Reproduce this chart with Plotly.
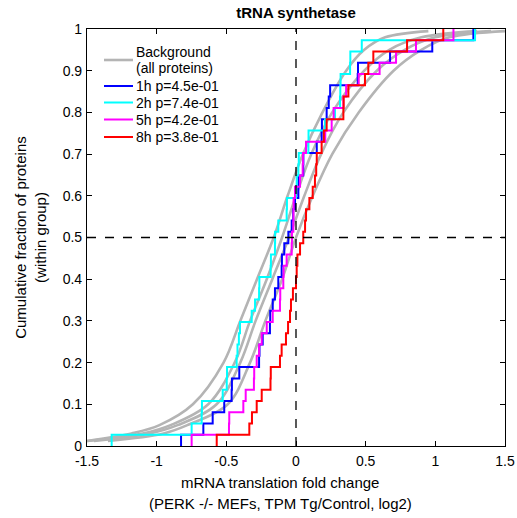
import plotly.graph_objects as go

# ---- data ----
title_text = "tRNA synthetase"

# sorted fold-change values of the tRNA synthetase genes per time point (ECDF steps)
x_1h = [-0.825, -0.665, -0.598, -0.515, -0.462, -0.46, -0.407, -0.265, -0.262, -0.239,
        -0.187, -0.185, -0.167, -0.151, -0.127, -0.103, -0.101, -0.084, -0.055, -0.031,
        -0.02, -0.007, 0.017, 0.018, 0.052, 0.053, 0.149, 0.184, 0.186, 0.22,
        0.235, 0.245, 0.443, 0.445, 0.675, 0.978, 1.273]
x_2h = [-1.323, -0.749, -0.677, -0.675, -0.526, -0.497, -0.495, -0.426, -0.42, -0.41,
        -0.402, -0.318, -0.294, -0.265, -0.263, -0.182, -0.18, -0.151, -0.15, -0.127,
        -0.067, -0.065, 0.0, 0.005, 0.017, 0.02, 0.089, 0.09, 0.208, 0.28,
        0.316, 0.318, 0.32, 0.388, 0.39, 0.472, 1.285]
x_5h = [-0.749, -0.481, -0.479, -0.378, -0.361, -0.302, -0.3, -0.282, -0.265, -0.246,
        -0.21, -0.167, -0.115, -0.113, -0.091, -0.089, -0.067, -0.031, -0.029, -0.019,
        -0.018, -0.017, -0.007, 0.029, 0.048, 0.05, 0.072, 0.21, 0.256, 0.27,
        0.34, 0.36, 0.45, 0.6, 0.718, 0.861, 1.13]
x_8h = [-0.569, -0.335, -0.316, -0.282, -0.246, -0.183, -0.181, -0.115, -0.103, -0.072,
        -0.057, -0.043, -0.036, -0.022, 0.0, 0.005, 0.01, 0.029, 0.052, 0.065,
        0.072, 0.096, 0.12, 0.136, 0.145, 0.149, 0.184, 0.2, 0.22, 0.34,
        0.342, 0.376, 0.495, 0.519, 0.555, 0.797, 1.057]

series_names = ["1h p=4.5e-01", "2h p=7.4e-01", "5h p=4.2e-01", "8h p=3.8e-01"]
series_colors = ["#0000ff", "#00ffff", "#ff00ff", "#ff0000"]

# background (all proteins) cumulative curves, read at fixed fractions
bg_levels = [0.012, 0.03, 0.05, 0.1, 0.2, 0.3, 0.4, 0.5, 0.6, 0.7, 0.8, 0.9, 0.95, 0.98, 0.995]
bg_2h = [-1.5, -1.18, -0.98, -0.74, -0.52, -0.40, -0.28, -0.16, -0.06, 0.05, 0.19, 0.36, 0.49, 0.64, 0.95]
bg_1h = [-1.5, -1.1, -0.9, -0.63, -0.44, -0.33, -0.21, -0.10, 0.0, 0.11, 0.26, 0.49, 0.67, 0.9, 1.3]
bg_5h = [-1.45, -1.05, -0.85, -0.57, -0.40, -0.29, -0.17, -0.05, 0.06, 0.18, 0.34, 0.58, 0.78, 1.0, 1.4]
bg_8h = [-1.35, -0.95, -0.78, -0.49, -0.33, -0.22, -0.10, 0.0, 0.12, 0.26, 0.45, 0.70, 0.9, 1.1, 1.5]

x_tickvals = [-1.5, -1, -0.5, 0, 0.5, 1, 1.5]
x_ticktext = ["-1.5", "-1", "-0.5", "0", "0.5", "1", "1.5"]
y_tickvals = [0, 0.1, 0.2, 0.3, 0.4, 0.5, 0.6, 0.7, 0.8, 0.9, 1]
y_ticktext = ["0", "0.1", "0.2", "0.3", "0.4", "0.5", "0.6", "0.7", "0.8", "0.9", "1"]

x_title_lines = ["mRNA translation fold change", "(PERK -/- MEFs, TPM Tg/Control, log2)"]
y_title = "Cumulative fraction of proteins<br>(within group)"
bg_name_lines = ["Background", "(all proteins)"]

# ---- layout constants (pixels) ----
W, H = 517, 518
L, R, T, B = 87, 12, 29, 72
PW, PH = W - L - R, H - T - B


def px_x(p):
    return (p - L) / PW


def px_y(p):
    return (H - B - p) / PH


# ---- figure ----
fig = go.Figure()
GRAY = "#b4b4b4"
for bg in [bg_1h, bg_2h, bg_5h, bg_8h]:
    fig.add_trace(go.Scatter(
        x=bg, y=bg_levels, mode="lines", line=dict(color=GRAY, width=2.6, shape="spline", smoothing=1.0),
        showlegend=False, hoverinfo="skip"))

for xs, nm, col in zip([x_1h, x_2h, x_5h, x_8h], series_names, series_colors):
    n = len(xs)
    xx = [xs[0]] + list(xs)
    yy = [0.0] + [(k + 1) / n for k in range(n)]
    fig.add_trace(go.Scatter(x=xx, y=yy, mode="lines", line=dict(color=col, width=2, shape="hv"),
                             name=nm, showlegend=False))

dash = dict(color="black", width=1.3, dash="dash")
fig.add_shape(type="line", xref="x", yref="y", x0=0, x1=0, y0=0, y1=1, line=dash, layer="above")
fig.add_shape(type="line", xref="x", yref="y", x0=-1.5, x1=1.5, y0=0.5, y1=0.5, line=dash, layer="above")

# ---- manual legend (inside the axes, upper left) ----
LEG_FONT = dict(size=14, color="black")
leg_x0, leg_x1, leg_tx = px_x(104), px_x(133), px_x(134)
# background entry (two text lines)
fig.add_shape(type="line", xref="paper", yref="paper", x0=leg_x0, x1=leg_x1,
              y0=px_y(60), y1=px_y(60), line=dict(color=GRAY, width=2.6))
for line_txt, py in zip(bg_name_lines, [52, 68]):
    fig.add_annotation(xref="paper", yref="paper", x=leg_tx, y=px_y(py), text=line_txt,
                       showarrow=False, xanchor="left", yanchor="middle", font=LEG_FONT)
for nm, col, py in zip(series_names, series_colors, [86, 102.5, 119.5, 137]):
    fig.add_shape(type="line", xref="paper", yref="paper", x0=leg_x0, x1=leg_x1,
                  y0=px_y(py), y1=px_y(py), line=dict(color=col, width=2))
    fig.add_annotation(xref="paper", yref="paper", x=leg_tx, y=px_y(py), text=nm,
                       showarrow=False, xanchor="left", yanchor="middle", font=LEG_FONT)

# x-axis title (two lines, centred slightly left of the axis centre as in the reference)
for line_txt, py in zip(x_title_lines, [483, 503]):
    fig.add_annotation(xref="paper", yref="paper", x=px_x(280), y=px_y(py), text=line_txt,
                       showarrow=False, xanchor="center", yanchor="middle",
                       font=dict(size=15, color="black"))

axis_common = dict(showgrid=False, zeroline=False, showline=True, linecolor="black", linewidth=1.2,
                   mirror="ticks", ticks="inside", ticklen=5, tickwidth=1, tickcolor="black",
                   tickfont=dict(size=14, color="black"), automargin=False)
fig.update_layout(
    width=W, height=H,
    margin=dict(l=L, r=R, t=T, b=B, autoexpand=False),
    paper_bgcolor="white", plot_bgcolor="white",
    font=dict(family="Liberation Sans, Arial, sans-serif", color="black", size=14),
    title=dict(text="<b>" + title_text + "</b>", xref="paper", x=0.5, xanchor="center",
               y=0.985, yanchor="top", font=dict(size=15)),
    xaxis=dict(range=[-1.5, 1.5], tickvals=x_tickvals, ticktext=x_ticktext,
               ticklabelstandoff=2, **axis_common),
    yaxis=dict(range=[0, 1], tickvals=y_tickvals, ticktext=y_ticktext,
               ticklabelstandoff=1,
               title=dict(text=y_title, font=dict(size=15), standoff=12), **axis_common),
    showlegend=False,
)
fig.write_html("out.html")
